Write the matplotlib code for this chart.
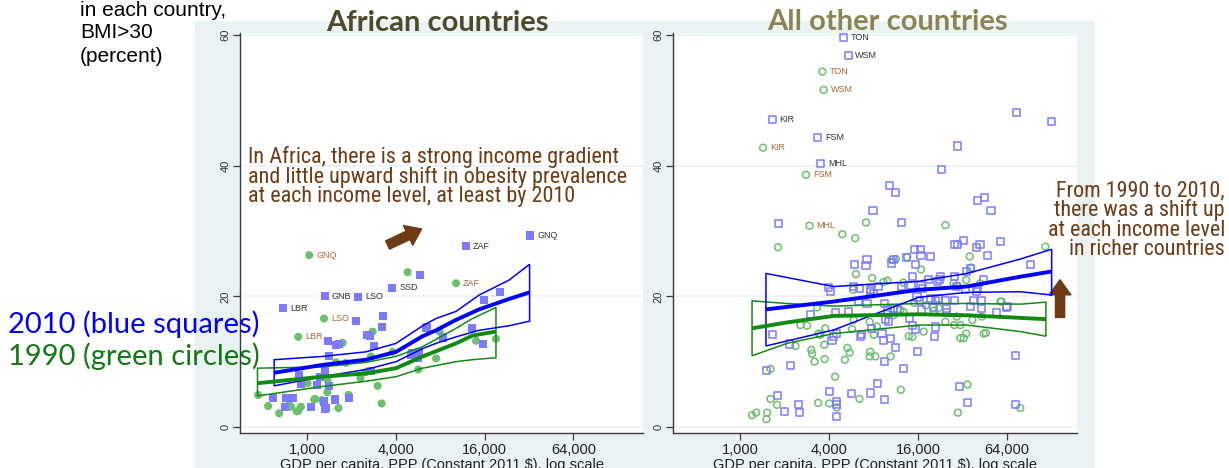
import matplotlib.pyplot as plt
from matplotlib import font_manager
from matplotlib.patches import Rectangle, Polygon
from matplotlib.ticker import FixedLocator, NullLocator

# obesity prevalence (% with BMI>30) against GDP per capita, PPP, 1990 vs 2010

# --- African countries ---
afr_2010_gdp = [5800, 2150, 3280, 3220, 1390, 1575, 1650, 2560, 2680, 2850, 6500, 5770, 5170,
                1400, 875, 1325, 906, 1165, 1410, 584, 716, 795, 710, 1065, 1300, 1340, 1325,
                1540, 1910, 1220, 2710, 13100, 15500, 20200, 15900, 6430, 8300, 5070, 5630]
afr_2010_bmi = [23.3, 16.2, 17.0, 15.3, 13.2, 12.6, 12.7, 14.1, 13.9, 12.4, 15.3, 11.5, 11.3,
                10.9, 7.9, 8.6, 6.6, 6.4, 6.3, 4.5, 4.5, 4.5, 3.0, 3.0, 3.9, 2.9, 2.7,
                4.2, 4.5, 7.7, 8.6, 15.2, 12.7, 20.7, 19.5, 15.1, 13.7, 11.0, 10.6]
afr_1990_gdp = [4800, 2780, 1740, 465, 543, 645, 775, 906, 873, 1115, 1260, 1370, 1630, 980,
                1375, 2300, 3010, 3200, 5680, 2500, 14000, 19100, 7500, 1910, 850, 755, 1133,
                1005, 2710, 1830, 1570, 3800, 7900]
afr_1990_bmi = [23.7, 14.6, 12.9, 4.9, 3.2, 2.1, 3.1, 3.1, 2.5, 4.2, 4.1, 5.3, 2.9, 6.9,
                7.2, 7.5, 6.3, 3.6, 8.8, 8.4, 13.2, 13.5, 10.5, 4.9, 2.4, 3.5, 4.3,
                6.7, 10.8, 9.8, 9.9, 11.5, 14.6]
afr_2010_codes = ["GNQ", "ZAF", "SSD", "GNB", "LSO", "LBR"]
afr_2010_code_gdp = [32600, 12000, 3780, 1320, 2210, 690]
afr_2010_code_bmi = [29.3, 27.7, 21.3, 20.0, 19.9, 18.2]
afr_1990_codes = ["GNQ", "ZAF", "LSO", "LBR"]
afr_1990_code_gdp = [1032, 10240, 1300, 869]
afr_1990_code_bmi = [26.3, 22.0, 16.6, 13.8]

afr_fit10_gdp = [597, 1270, 2505, 4010, 6080, 7490, 10240, 14700, 23500, 32300]
afr_fit10 = [8.3, 9.5, 10.3, 11.5, 13.9, 14.8, 16.4, 18.0, 19.6, 20.6]
afr_fit10_hi = [10.3, 10.8, 11.5, 12.8, 15.5, 16.6, 17.7, 20.2, 22.5, 24.9]
afr_fit10_lo = [6.3, 7.7, 8.8, 10.0, 12.0, 12.8, 13.8, 14.8, 15.5, 16.2]
afr_fit90_gdp = [460, 1270, 2505, 4010, 6080, 10240, 13250, 19100]
afr_fit90 = [6.7, 7.7, 8.2, 9.0, 10.8, 12.8, 14.0, 14.6]
afr_fit90_hi = [9.0, 9.2, 9.9, 10.8, 12.3, 15.1, 16.6, 18.3]
afr_fit90_lo = [4.75, 6.2, 7.0, 7.7, 9.0, 10.0, 10.3, 10.6]

# --- all other countries ---
oth_2010_gdp = [73600, 29400, 22900, 10200, 11300, 40500, 44700, 49700, 7900, 1800, 12400,
                29500, 32400, 28300, 39400, 41900, 57500, 47200, 15100, 16500, 16700, 19500,
                10900, 10500, 13400, 7200, 5940, 7090, 15400, 36000, 33800, 28000, 22600, 22200,
                18900, 21700, 14600, 16700, 17200, 14300, 12400, 29200, 33200, 40500, 39900,
                44400, 7560, 8620, 5840, 6420, 3960, 4070, 7650, 7980, 15700, 16300, 19300,
                20900, 22000, 24400, 28200, 36000, 43100, 37900, 43100, 54500, 63000, 20400,
                25000, 25000, 16900, 10900, 9900, 11500, 9500, 7200, 6300, 5400, 4400, 2970,
                14000, 9600, 10100, 14600, 15300, 20900, 20700, 4500, 4280, 4170, 6600, 6490,
                9100, 7700, 10400, 9300, 11300, 15800, 9500, 12800, 1660, 2140, 2180, 1500,
                8500, 4000, 30500, 5620, 7560, 9400, 1790, 4450, 4500, 34700, 2460, 2000,
                2520, 4500, 72400, 72400, 92600, 63800, 128000]
oth_2010_bmi = [48.2, 43.0, 39.4, 36.9, 35.9, 34.6, 35.1, 33.2, 33.2, 31.1, 31.3,
                28.0, 28.6, 27.9, 27.5, 27.9, 28.4, 26.2, 27.1, 27.1, 26.3, 26.1,
                25.7, 25.1, 26.0, 25.7, 24.9, 24.7, 24.9, 24.3, 23.8, 23.1, 23.0, 22.6,
                22.6, 22.3, 23.0, 21.7, 21.2, 21.7, 21.5, 21.5, 21.1, 21.2, 20.8,
                22.5, 21.1, 21.5, 21.5, 21.2, 21.3, 20.7, 20.7, 20.4, 19.9, 19.4, 19.7,
                19.4, 19.7, 19.4, 19.4, 18.4, 18.2, 19.3, 19.4, 17.5, 18.3, 18.3,
                18.2, 17.5, 17.9, 18.2, 17.9, 17.9, 18.9, 18.9, 19.2, 17.6, 17.5, 17.2,
                16.6, 16.4, 16.2, 15.5, 14.9, 15.3, 13.8, 14.3, 13.8, 13.3, 14.2, 13.9,
                14.3, 15.1, 13.6, 13.3, 12.2, 11.5, 10.0, 9.0, 14.2, 12.7, 9.4, 8.6,
                6.7, 5.5, 6.2, 5.1, 5.2, 4.2, 4.8, 3.9, 3.5, 3.8, 3.5, 2.4,
                2.2, 1.6, 11.0, 3.5, 24.8, 18.4, 46.7]
oth_1990_gdp = [7090, 24500, 4900, 5990, 1800, 6060, 7800, 5800, 9300, 9900, 10600, 11300,
                13500, 16700, 35700, 36500, 33800, 27700, 29500, 42000, 57500, 12700, 12100,
                12700, 9800, 10900, 7500, 8400, 8000, 5700, 5840, 7560, 7500, 8200, 10400,
                5100, 5300, 5500, 3720, 3180, 3060, 3020, 3700, 3480, 3390, 3760, 2550, 2830,
                2360, 3300, 1600, 4380, 12200, 34500, 6400, 3360, 4000, 4500, 1600, 1770,
                1520, 1500, 1280, 1200, 29700, 44400, 45900, 33800, 32500, 30900, 28000,
                30900, 17400, 14600, 13800, 24400, 29200, 37200, 43100, 78500, 116000, 58700,
                18000, 20500, 15000, 22000]
oth_1990_bmi = [31.3, 30.9, 29.5, 28.9, 27.5, 23.4, 22.8, 21.0, 22.2, 22.4, 25.6, 25.7,
                26.0, 24.1, 26.1, 24.4, 22.5, 22.0, 21.6, 22.0, 19.2, 22.1, 17.9,
                17.6, 17.3, 17.1, 16.1, 15.4, 14.1, 15.0, 16.4, 11.5, 10.8, 10.8, 10.8,
                10.3, 12.1, 11.4, 10.4, 10.0, 11.2, 11.8, 12.6, 14.1, 14.3, 15.1, 15.6, 15.5,
                12.4, 18.3, 8.9, 7.7, 5.7, 6.5, 4.3, 3.7, 3.6, 3.0, 4.3, 3.4,
                2.2, 1.2, 2.2, 1.8, 2.2, 14.3, 14.4, 14.3, 13.6, 13.6, 15.6,
                15.6, 14.6, 13.8, 13.9, 16.1, 16.9, 16.4, 16.9, 2.9, 27.6, 19.2,
                18.6, 17.8, 19.0, 18.2]
oth_2010_codes = ["TON", "WSM", "KIR", "FSM", "MHL"]
oth_2010_code_gdp = [5000, 5390, 1650, 3350, 3510]
oth_2010_code_bmi = [59.65, 56.8, 47.0, 44.3, 40.3]
oth_1990_codes = ["TON", "WSM", "KIR", "FSM", "MHL"]
oth_1990_code_gdp = [3590, 3660, 1425, 2780, 2940]
oth_1990_code_bmi = [54.4, 51.6, 42.75, 38.6, 30.8]

oth_fit10_gdp = [1490, 4280, 16100, 34100, 78500, 128000]
oth_fit10 = [18.0, 19.2, 21.0, 21.5, 23.0, 23.8]
oth_fit10_hi = [23.5, 21.5, 22.3, 23.5, 25.7, 27.2]
oth_fit10_lo = [12.4, 14.85, 19.85, 20.6, 20.7, 20.2]
oth_fit90_gdp = [1200, 2070, 4280, 16100, 34100, 78500, 117000]
oth_fit90 = [15.1, 16.0, 17.0, 17.25, 17.1, 16.7, 16.5]
oth_fit90_hi = [19.3, 18.9, 18.5, 18.9, 18.9, 18.8, 19.1]
oth_fit90_lo = [10.9, 12.8, 14.3, 15.6, 15.6, 14.6, 13.9]

x_ticks = [1000, 4000, 16000, 64000]
x_tick_labels = ["1,000", "4,000", "16,000", "64,000"]
y_ticks = [0, 20, 40, 60]

BACK = "#eaf2f3"
BLUE = "#0000ff"
GREEN = "#118a11"
SQ = "#7b7bff"
CI = "#6cbf6c"
BROWN = "#6e3b12"

names = {f.name for f in font_manager.fontManager.ttflist}
narrow = next((n for n in ["Liberation Sans Narrow", "Roboto Condensed", "Arial Narrow"]
               if n in names), "Liberation Sans")

W, H = 1229, 468
fig = plt.figure(figsize=(W / 100, H / 100), dpi=100)
fig.patch.set_facecolor("white")
fig.patches.append(Rectangle((195 / W, 0), 900 / W, 1 - 21 / H,
                             transform=fig.transFigure, facecolor=BACK,
                             edgecolor="none", zorder=-5))


def px_axes(x0, x1, y0, y1):
    return fig.add_axes([x0 / W, 1 - y1 / H, (x1 - x0) / W, (y1 - y0) / H])


def setup(ax):
    ax.set_xscale("log")
    ax.set_xlim(350, 190000)
    ax.set_ylim(-0.92, 60.3)
    ax.set_facecolor("white")
    for s in ("top", "right"):
        ax.spines[s].set_visible(False)
    for s in ("left", "bottom"):
        ax.spines[s].set_color("#3a3a3a")
        ax.spines[s].set_linewidth(1.0)
    ax.xaxis.set_major_locator(FixedLocator(x_ticks))
    ax.xaxis.set_minor_locator(NullLocator())
    ax.set_xticklabels(x_tick_labels, fontsize=10.5, color="#222222",
                       family="Liberation Sans")
    ax.set_yticks(y_ticks)
    ax.set_yticklabels([str(v) for v in y_ticks], rotation=90, va="center",
                       fontsize=8, color="#333333", family="Liberation Sans")
    ax.tick_params(axis="both", length=5, width=0.9, color="#3a3a3a", pad=2)
    for v in y_ticks:
        ax.axhline(v, color=BACK, lw=1.2, zorder=0.5)
    ax.set_xlabel("GDP per capita, PPP (Constant 2011 $), log scale", fontsize=10.5,
                  family="Liberation Sans", color="#222222", labelpad=1)


def band(ax, gx, fit, lo, hi, color):
    pts = list(zip(gx, hi)) + list(zip(gx[::-1], lo[::-1]))
    ax.add_patch(Polygon(pts, closed=True, fill=False, edgecolor=color, lw=1.1, zorder=4))
    ax.plot(gx, fit, color=color, lw=2.8, zorder=5, solid_capstyle="butt")


def codes(ax, names_, gx, gy, color):
    for n, x, y in zip(names_, gx, gy):
        ax.annotate(n, (x, y), xytext=(5, 0), textcoords="offset points",
                    va="center", ha="left", fontsize=6.5, color=color,
                    family="Liberation Sans", zorder=6)


# left panel: Africa, filled markers
axl = px_axes(240, 643, 33, 433)
setup(axl)
axl.scatter(afr_1990_gdp + afr_1990_code_gdp, afr_1990_bmi + afr_1990_code_bmi,
            s=34, marker="o", color=CI, edgecolors="none", zorder=3)
axl.scatter(afr_2010_gdp + afr_2010_code_gdp, afr_2010_bmi + afr_2010_code_bmi,
            s=34, marker="s", color=SQ, edgecolors="none", zorder=3)
band(axl, afr_fit90_gdp, afr_fit90, afr_fit90_lo, afr_fit90_hi, GREEN)
band(axl, afr_fit10_gdp, afr_fit10, afr_fit10_lo, afr_fit10_hi, BLUE)
codes(axl, afr_2010_codes, afr_2010_code_gdp, afr_2010_code_bmi, "#333333")
codes(axl, afr_1990_codes, afr_1990_code_gdp, afr_1990_code_bmi, "#a8683a")

# right panel: all other countries, hollow markers
axr = px_axes(673, 1077, 33, 433)
setup(axr)
axr.scatter(oth_1990_gdp + oth_1990_code_gdp, oth_1990_bmi + oth_1990_code_bmi,
            s=24, marker="o", facecolors="none", edgecolors=CI, linewidths=1.1, zorder=3)
axr.scatter(oth_2010_gdp + oth_2010_code_gdp, oth_2010_bmi + oth_2010_code_bmi,
            s=26, marker="s", facecolors="none", edgecolors=SQ, linewidths=1.1, zorder=3)
band(axr, oth_fit90_gdp, oth_fit90, oth_fit90_lo, oth_fit90_hi, GREEN)
band(axr, oth_fit10_gdp, oth_fit10, oth_fit10_lo, oth_fit10_hi, BLUE)
codes(axr, oth_2010_codes, oth_2010_code_gdp, oth_2010_code_bmi, "#333333")
codes(axr, oth_1990_codes, oth_1990_code_gdp, oth_1990_code_bmi, "#a8683a")

# titles and side notes
fig.text(437 / W, 1 - 23 / H, "African countries", ha="center", va="center",
         fontsize=21, fontweight="bold", family="Lato", color="#4d4a2c")
fig.text(887 / W, 1 - 22 / H, "All other countries", ha="center", va="center",
         fontsize=21, fontweight="bold", family="Lato", color="#8c8352")
for txt, yc in zip(["in each country,", "BMI>30", "(percent)"], [11, 33, 56]):
    fig.text(80 / W, 1 - yc / H, txt, ha="left", va="center",
             fontsize=15, family="Liberation Sans", color="black")
fig.text(8 / W, 1 - 324 / H, "2010 (blue squares)", ha="left", va="center",
         fontsize=21, family="Lato", color=BLUE)
fig.text(8 / W, 1 - 356 / H, "1990 (green circles)", ha="left", va="center",
         fontsize=21, family="Lato", color="#127a12")

fig.text(248 / W, 1 - 146 / H,
         "In Africa, there is a strong income gradient\n"
         "and little upward shift in obesity prevalence\n"
         "at each income level, at least by 2010",
         ha="left", va="top", fontsize=15.9, family=narrow, color=BROWN, linespacing=0.88)
fig.text(1225 / W, 1 - 180 / H,
         "From 1990 to 2010,\nthere was a shift up\nat each income level\nin richer countries",
         ha="right", va="top", fontsize=15.8, family=narrow, color=BROWN, linespacing=0.9)

axl.annotate("", xy=(0.457, 0.513), xytext=(0.36, 0.467), xycoords="axes fraction",
             arrowprops=dict(arrowstyle="simple,head_length=0.9,head_width=1.3,tail_width=0.55",
                             color=BROWN, mutation_scale=12))
axr.annotate("", xy=(0.958, 0.39), xytext=(0.958, 0.282), xycoords="axes fraction",
             arrowprops=dict(arrowstyle="simple,head_length=0.9,head_width=1.3,tail_width=0.55",
                             color=BROWN, mutation_scale=12), annotation_clip=False)

fig.savefig("out.png", dpi=100)
